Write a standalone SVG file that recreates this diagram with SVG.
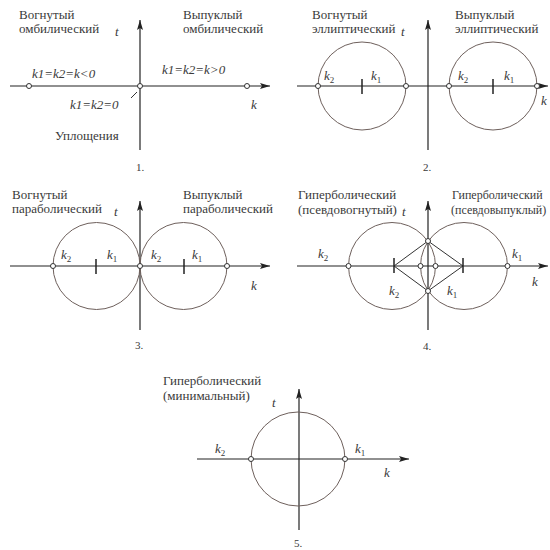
<svg xmlns="http://www.w3.org/2000/svg" width="550" height="550" viewBox="0 0 550 550">
<defs>
<marker id="ah" viewBox="0 0 10 6" refX="10" refY="3" markerWidth="10" markerHeight="6" markerUnits="userSpaceOnUse" orient="auto">
<path d="M0,0 L10,3 L0,6 L2,3 Z" fill="#222"/>
</marker>
<style>
.ax{stroke:#222;stroke-width:1.2;fill:none}
.cr{stroke:#6e605c;stroke-width:1;fill:none}
.tk{stroke:#222;stroke-width:1.5}
.pt{fill:#fff;stroke:#333;stroke-width:1}
.ln{stroke:#333;stroke-width:1;fill:none}
.tx{font-size:13px;fill:#3a3a3a}
.sm{font-size:12px}
.it{font-size:13px;font-style:italic;fill:#3a3a3a}
.sb{font-size:9px;font-style:normal}
.nm{font-size:11px;fill:#3a3a3a;text-anchor:middle}
</style>
</defs>
<rect width="550" height="550" fill="#fff"/>
<g font-family="'Liberation Serif', 'DejaVu Serif', serif">
<g id="panel1">
<line class="ax" x1="10" y1="86" x2="270" y2="86" marker-end="url(#ah)"/>
<line class="ax" x1="140" y1="150" x2="140" y2="20" marker-end="url(#ah)"/>
<line class="ln" x1="131" y1="98" x2="137" y2="92"/>
<circle class="pt" cx="29" cy="86" r="2.5"/>
<circle class="pt" cx="140" cy="86" r="2.5"/>
<circle class="pt" cx="247" cy="86" r="2.5"/>
<text class="tx" x="19" y="19">Вогнутый</text>
<text class="tx" x="19" y="33">омбилический</text>
<text class="tx" x="183" y="19">Выпуклый</text>
<text class="tx" x="183" y="33">омбилический</text>
<text class="it" x="115" y="36">t</text>
<text class="it" x="32" y="78">k1=k2=k&lt;0</text>
<text class="it" x="162" y="74">k1=k2=k&gt;0</text>
<text class="it" x="70" y="109">k1=k2=0</text>
<text class="it" x="251" y="109">k</text>
<text class="tx" x="55" y="140">Уплощения</text>
<text class="nm" x="140" y="171">1.</text>
</g>

<g id="panel2">
<line class="ax" x1="297" y1="86" x2="548" y2="86" marker-end="url(#ah)"/>
<line class="ax" x1="428" y1="150" x2="428" y2="20" marker-end="url(#ah)"/>
<circle class="cr" cx="362" cy="86" r="44"/>
<circle class="cr" cx="493" cy="86" r="44"/>
<line class="tk" x1="362" y1="79" x2="362" y2="94"/>
<line class="tk" x1="493" y1="79" x2="493" y2="94"/>
<circle class="pt" cx="318" cy="86" r="2.5"/>
<circle class="pt" cx="406" cy="86" r="2.5"/>
<circle class="pt" cx="449" cy="86" r="2.5"/>
<circle class="pt" cx="537" cy="86" r="2.5"/>
<text class="tx" x="312" y="19">Вогнутый</text>
<text class="tx" x="312" y="33">эллиптический</text>
<text class="tx" x="455" y="19">Выпуклый</text>
<text class="tx" x="455" y="33">эллиптический</text>
<text class="it" x="401" y="36">t</text>
<text class="it" x="324" y="80">k<tspan class="sb" dy="3">2</tspan></text>
<text class="it" x="371" y="80">k<tspan class="sb" dy="3">1</tspan></text>
<text class="it" x="458" y="80">k<tspan class="sb" dy="3">2</tspan></text>
<text class="it" x="504" y="80">k<tspan class="sb" dy="3">1</tspan></text>
<text class="it" x="541" y="105">k</text>
<text class="nm" x="427" y="171">2.</text>
</g>

<g id="panel3">
<line class="ax" x1="10" y1="266" x2="270" y2="266" marker-end="url(#ah)"/>
<line class="ax" x1="140" y1="330" x2="140" y2="201" marker-end="url(#ah)"/>
<circle class="cr" cx="96.5" cy="266" r="43.5"/>
<circle class="cr" cx="183.5" cy="266" r="43.5"/>
<line class="tk" x1="96" y1="259" x2="96" y2="274"/>
<line class="tk" x1="184" y1="259" x2="184" y2="274"/>
<circle class="pt" cx="53" cy="266" r="2.5"/>
<circle class="pt" cx="140" cy="266" r="2.5"/>
<circle class="pt" cx="227" cy="266" r="2.5"/>
<text class="tx" x="12" y="199">Вогнутый</text>
<text class="tx" x="12" y="213">параболический</text>
<text class="tx" x="183" y="199">Выпуклый</text>
<text class="tx" x="183" y="213">параболический</text>
<text class="it" x="114" y="216">t</text>
<text class="it" x="61" y="259">k<tspan class="sb" dy="3">2</tspan></text>
<text class="it" x="107" y="259">k<tspan class="sb" dy="3">1</tspan></text>
<text class="it" x="151" y="259">k<tspan class="sb" dy="3">2</tspan></text>
<text class="it" x="192" y="259">k<tspan class="sb" dy="3">1</tspan></text>
<text class="it" x="251" y="290">k</text>
<text class="nm" x="139" y="349">3.</text>
</g>

<g id="panel4">
<line class="ax" x1="297" y1="266" x2="548" y2="266" marker-end="url(#ah)"/>
<line class="ax" x1="428" y1="330" x2="428" y2="201" marker-end="url(#ah)"/>
<circle class="cr" cx="392" cy="266" r="43.5"/>
<circle class="cr" cx="464" cy="266" r="43.5"/>
<path class="ln" d="M394,266 L428,241 L463,266 L428,291 Z"/>
<line class="tk" x1="394" y1="258" x2="394" y2="273"/>
<line class="tk" x1="463" y1="258" x2="463" y2="273"/>
<circle class="pt" cx="348.5" cy="266" r="2.5"/>
<circle class="pt" cx="420.5" cy="266" r="2.5"/>
<circle class="pt" cx="435.5" cy="266" r="2.5"/>
<circle class="pt" cx="507.5" cy="266" r="2.5"/>
<circle class="pt" cx="428" cy="241" r="2.5"/>
<circle class="pt" cx="428" cy="291" r="2.5"/>
<text class="tx" x="298" y="199">Гиперболический</text>
<text class="tx" x="298" y="214">(псевдовогнутый)</text>
<text class="tx sm" x="452" y="199">Гиперболический</text>
<text class="tx sm" x="451" y="214">(псевдовыпуклый)</text>
<text class="it" x="402" y="216">t</text>
<text class="it" x="318" y="258">k<tspan class="sb" dy="3">2</tspan></text>
<text class="it" x="512" y="258">k<tspan class="sb" dy="3">1</tspan></text>
<text class="it" x="389" y="295">k<tspan class="sb" dy="3">2</tspan></text>
<text class="it" x="447" y="295">k<tspan class="sb" dy="3">1</tspan></text>
<text class="it" x="532" y="286">k</text>
<text class="nm" x="427" y="350">4.</text>
</g>

<g id="panel5">
<line class="ax" x1="197" y1="459" x2="409" y2="459" marker-end="url(#ah)"/>
<line class="ax" x1="299" y1="530" x2="299" y2="389" marker-end="url(#ah)"/>
<circle class="cr" cx="298" cy="459" r="47"/>
<circle class="pt" cx="251" cy="459" r="2.5"/>
<circle class="pt" cx="345" cy="459" r="2.5"/>
<text class="tx" x="163" y="385">Гиперболический</text>
<text class="tx" x="163" y="400">(минимальный)</text>
<text class="it" x="272" y="407">t</text>
<text class="it" x="215" y="453">k<tspan class="sb" dy="3">2</tspan></text>
<text class="it" x="355" y="453">k<tspan class="sb" dy="3">1</tspan></text>
<text class="it" x="384" y="477">k</text>
<text class="nm" x="298" y="547">5.</text>
</g>
</g>
</svg>
